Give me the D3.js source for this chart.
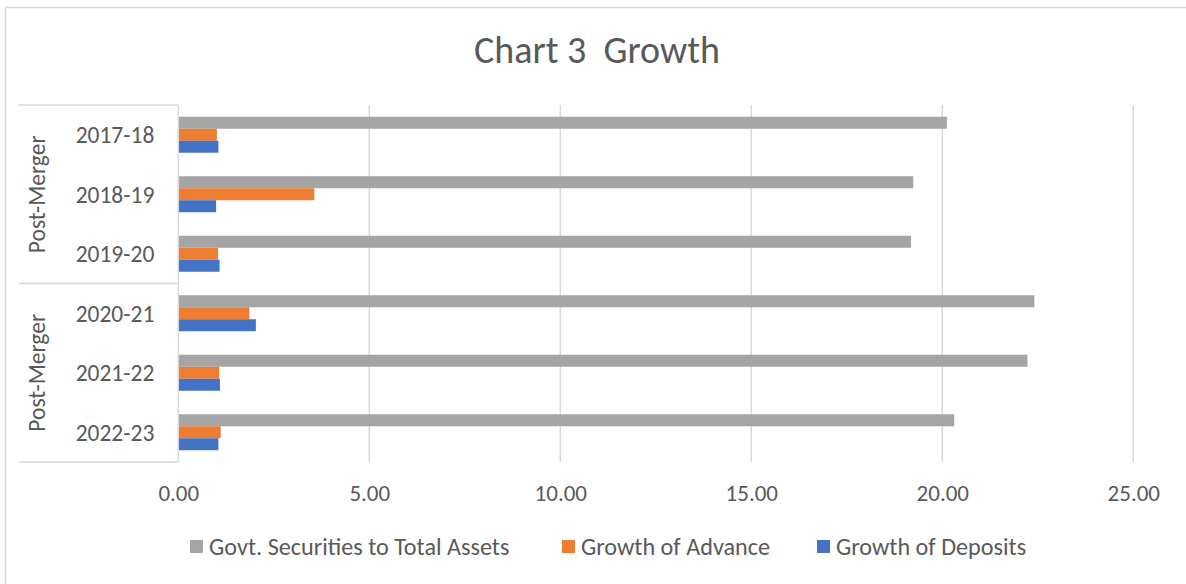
<!DOCTYPE html>
<html>
<head>
<meta charset="utf-8">
<script src="https://cdn.jsdelivr.net/npm/d3@7"></script>
<style>
  html, body { margin: 0; padding: 0; background: #fff; }
  svg { display: block; font-family: Carlito, Lato, "Open Sans", sans-serif; }
  text { white-space: pre; }
</style>
</head>
<body>
<svg id="chart" width="1186" height="584"></svg>
<script>
// Years on the category axis (top to bottom)
const categories = ["2017-18", "2018-19", "2019-20", "2020-21", "2021-22", "2022-23"];
// Outer grouping of the category axis
const groupLabels = ["Post-Merger", "Post-Merger"];
const groupSizes = [3, 3];
// Series values
const govtSecurities = [20.12, 19.24, 19.18, 22.41, 22.23, 20.31];
const growthAdvance = [1.01, 3.56, 1.04, 1.86, 1.07, 1.11];
const growthDeposits = [1.05, 0.99, 1.08, 2.03, 1.09, 1.05];
const seriesNames = ["Govt. Securities to Total Assets", "Growth of Advance", "Growth of Deposits"];
const seriesColors = ["#a5a5a5", "#ed7d31", "#4472c4"];
// Value axis ticks
const tickValues = [0, 5, 10, 15, 20, 25];

const series = [govtSecurities, growthAdvance, growthDeposits];
const svg = d3.select("#chart");
const textColor = "#595959";
const lineColor = "#d9d9d9";

// Chart frame
svg.append("rect")
  .attr("x", 5.5).attr("y", 7.5)
  .attr("width", 1200).attr("height", 600)
  .attr("fill", "#fff")
  .attr("stroke", lineColor).attr("stroke-width", 1.5);

// Title
svg.append("text")
  .attr("x", 597).attr("y", 63)
  .attr("text-anchor", "middle")
  .attr("font-size", 38)
  .attr("fill", textColor)
  .text("Chart 3  Growth");

const plot = { left: 178.3, right: 1133.3, top: 105, bottom: 462 };

const x = d3.scaleLinear().domain([0, 25]).range([plot.left, plot.right]);
const y = d3.scaleBand().domain(categories)
  .range([plot.top, plot.bottom])
  .paddingInner(0.395).paddingOuter(0.1975);
const ySub = d3.scaleBand().domain(d3.range(series.length))
  .range([0, y.bandwidth()]);

// Vertical gridlines
svg.append("g")
  .selectAll("line")
  .data(tickValues.filter(d => d > 0))
  .join("line")
  .attr("x1", d => x(d)).attr("x2", d => x(d))
  .attr("y1", plot.top).attr("y2", plot.bottom)
  .attr("stroke", lineColor).attr("stroke-width", 1.5);

// Value axis labels
const xAxis = d3.axisBottom(x).tickValues(tickValues)
  .tickFormat(d3.format(".2f")).tickSize(0).tickPadding(0);
const xg = svg.append("g")
  .attr("transform", `translate(0,${plot.bottom})`)
  .call(xAxis)
  .attr("font-family", null)
  .attr("font-size", null);
xg.select(".domain").remove();
xg.selectAll("text")
  .attr("dy", null)
  .attr("y", 39)
  .attr("font-size", 23)
  .attr("fill", textColor);

// Bars
const rows = categories.map((c, i) => ({ cat: c, vals: series.map(s => s[i]) }));
const rowG = svg.append("g").selectAll("g")
  .data(rows)
  .join("g")
  .attr("transform", d => `translate(0,${y(d.cat)})`);
rowG.selectAll("rect")
  .data(d => d.vals.map((v, k) => ({ v, k })))
  .join("rect")
  .attr("x", x(0))
  .attr("y", d => ySub(d.k))
  .attr("width", d => x(d.v) - x(0))
  .attr("height", ySub.bandwidth())
  .attr("fill", d => seriesColors[d.k]);

// Category axis line
svg.append("line")
  .attr("x1", plot.left).attr("x2", plot.left)
  .attr("y1", plot.top).attr("y2", plot.bottom)
  .attr("stroke", lineColor).attr("stroke-width", 1.5);

// Category labels
const yAxis = d3.axisLeft(y).tickSize(0).tickPadding(24);
const yg = svg.append("g")
  .attr("transform", `translate(${plot.left},0)`)
  .call(yAxis)
  .attr("font-family", null)
  .attr("font-size", null);
yg.select(".domain").remove();
yg.selectAll("text")
  .attr("font-size", 23.5)
  .attr("fill", textColor)
  .attr("dy", "0.36em");

// Group separators and labels
const step = y.step();
let start = 0;
const groupEdges = [plot.top];
groupSizes.forEach((n, gi) => {
  const y0 = plot.top + start * step;
  const y1 = plot.top + (start + n) * step;
  groupEdges.push(y1);
  svg.append("text")
    .attr("transform", `translate(45,${(y0 + y1) / 2}) rotate(-90)`)
    .attr("text-anchor", "middle")
    .attr("font-size", 23.5)
    .attr("fill", textColor)
    .text(groupLabels[gi]);
  start += n;
});
svg.append("g").selectAll("line")
  .data(groupEdges)
  .join("line")
  .attr("x1", 19).attr("x2", plot.left)
  .attr("y1", d => d).attr("y2", d => d)
  .attr("stroke", lineColor).attr("stroke-width", 1.5);

// Legend
const legendX = [190, 562, 817];
const lg = svg.append("g").selectAll("g")
  .data(seriesNames)
  .join("g")
  .attr("transform", (d, i) => `translate(${legendX[i]},540)`);
lg.append("rect")
  .attr("width", 13).attr("height", 13)
  .attr("fill", (d, i) => seriesColors[i]);
lg.append("text")
  .attr("x", 19).attr("y", 14.5)
  .attr("font-size", 24.2)
  .attr("fill", textColor)
  .text(d => d);
</script>
</body>
</html>
